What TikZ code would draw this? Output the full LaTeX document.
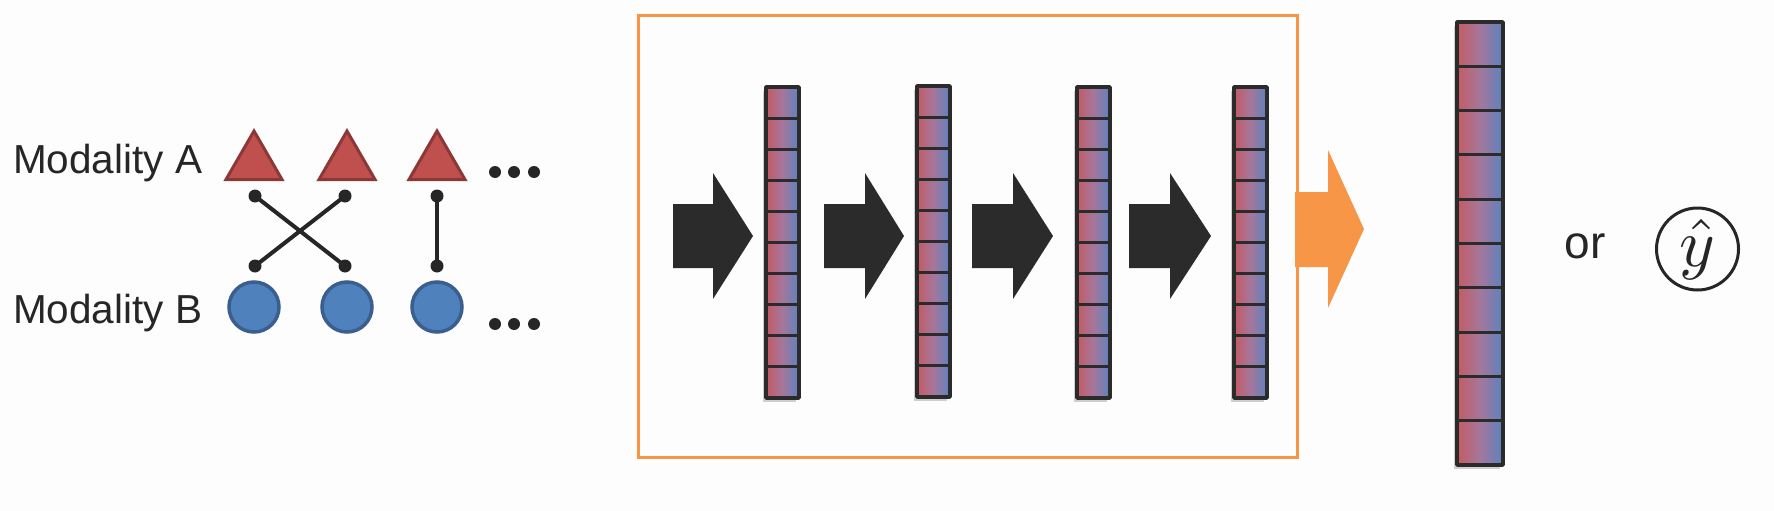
\documentclass[tikz,border=0pt]{standalone}
\usepackage{graphicx}
\usepackage{fontspec}
\setmainfont{Liberation Sans}
\usetikzlibrary{shapes.geometric}
\definecolor{txt}{HTML}{262626}
\definecolor{trifill}{HTML}{C0504D}
\definecolor{triline}{HTML}{8C3836}
\definecolor{cirfill}{HTML}{4F81BD}
\definecolor{cirline}{HTML}{3A5F8E}
\definecolor{org}{HTML}{F79646}
\definecolor{dark}{HTML}{2B2B2B}
\definecolor{vred}{HTML}{C55A62}
\definecolor{vmid}{HTML}{A5779C}
\definecolor{vblue}{HTML}{5B82BF}
\definecolor{bg}{HTML}{FDFDFD}
\tikzset{
  lab/.style={text=txt, inner sep=0pt, font=\fontsize{40.5}{48}\selectfont},
  tri/.style={fill=trifill, draw=triline, line width=3pt, line join=miter},
  cir/.style={circle, fill=cirfill, draw=cirline, line width=3.5pt, minimum size=50pt, inner sep=0pt},
  link/.style={draw=txt, line width=4pt},
  linkdot/.style={fill=txt},
  ell/.style={fill=txt},
  blockarrow/.style={fill=dark},
  orgarrow/.style={fill=org},
  orgbox/.style={draw=org, line width=3pt},
  vframe/.style={draw=dark, line width=3.5pt, line join=round},
  vsep/.style={draw=dark, line width=3pt},
  vshadow/.style={fill=black, opacity=0.18},
  vshade/.style={left color=vred, right color=vblue, middle color=vmid},
  outcircle/.style={circle, draw=txt, text=txt, line width=3pt, minimum size=82pt, inner sep=0pt},
}
\newcommand\featvec[5]{% name, xl, yt, xr, yb
  \fill[vshadow] ({#2-3},{#3+4}) rectangle ({#4-3},{#5+4});
  \shade[vshade] (#2,#3) rectangle (#4,#5);
  \foreach \k in {1,...,9}
    \draw[vsep] (#2,{#3+\k*(#5-#3)/10}) -- (#4,{#3+\k*(#5-#3)/10});
  \draw[vframe] (#2,#3) rectangle (#4,#5);
  \coordinate (#1) at ({(#2+#4)/2},{(#3+#5)/2});
}
\newcommand\blkarrow[3]{% x start, x head base, x tip
  \fill[blockarrow] (#1,204) -- (#2,204) -- (#2,173) -- (#3,236) -- (#2,299) -- (#2,268) -- (#1,268) -- cycle;
}
\begin{document}
\begin{tikzpicture}[x=1pt,y=-1pt]
\fill[bg] (0,0) rectangle (1774,511);
\useasboundingbox (0,0) rectangle (1774,511);

% labels
\node[lab, anchor=base west] (modA) at (13,173) {Modality A};
\node[lab, anchor=base west] (modB) at (13,323) {Modality B};

% triangles (modality A)
\foreach \n/\x in {1/254,2/347,3/437}{
  \draw[tri] (\x,131) -- ({\x+28},179.5) -- ({\x-28},179.5) -- cycle;
  \coordinate (a\n) at (\x,163);
}
% circles (modality B)
\node[cir] (b1) at (254,307) {};
\node[cir] (b2) at (347,307) {};
\node[cir] (b3) at (437,307) {};

% connectors
\coordinate (ta1) at (255,196);
\coordinate (ta2) at (345,196);
\coordinate (ta3) at (437,196);
\coordinate (tb1) at (255,266);
\coordinate (tb2) at (345,266);
\coordinate (tb3) at (437,266);
\draw[link] (ta1) -- (tb2);
\draw[link] (ta2) -- (tb1);
\draw[link] (ta3) -- (tb3);
\foreach \c in {ta1,ta2,ta3,tb1,tb2,tb3}
  \fill[linkdot] (\c) circle (6.5);

% ellipses
\foreach \x in {495,514,534}{
  \fill[ell] (\x,172) circle (6);
  \fill[ell] (\x,324) circle (6);
}

% orange box
\draw[orgbox] (638,16) rectangle (1297,457);

% block arrows
\blkarrow{673}{713}{753}
\blkarrow{824}{865}{904}
\blkarrow{972}{1013}{1053}
\blkarrow{1129}{1170}{1211}

% feature vectors
\featvec{v1}{766}{87}{799}{398}
\featvec{v2}{917}{86}{950}{397}
\featvec{v3}{1077}{87}{1110}{398}
\featvec{v4}{1234}{87}{1267}{398}

% orange arrow
\fill[orgarrow] (1295,192) -- (1328,192) -- (1328,150) -- (1364,229) -- (1328,308) -- (1328,267) -- (1295,267) -- cycle;

% output vector
\featvec{vout}{1457}{22}{1503}{465}

% or / y-hat
\node[text=txt, inner sep=0pt, font=\fontsize{46}{52}\selectfont] (or) at (1585,246) {or};
\node[outcircle] (yc) at (1697.5,249) {\raisebox{3pt}{\scalebox{6.8}{$\hat{y}$}}};
\end{tikzpicture}
\end{document}
